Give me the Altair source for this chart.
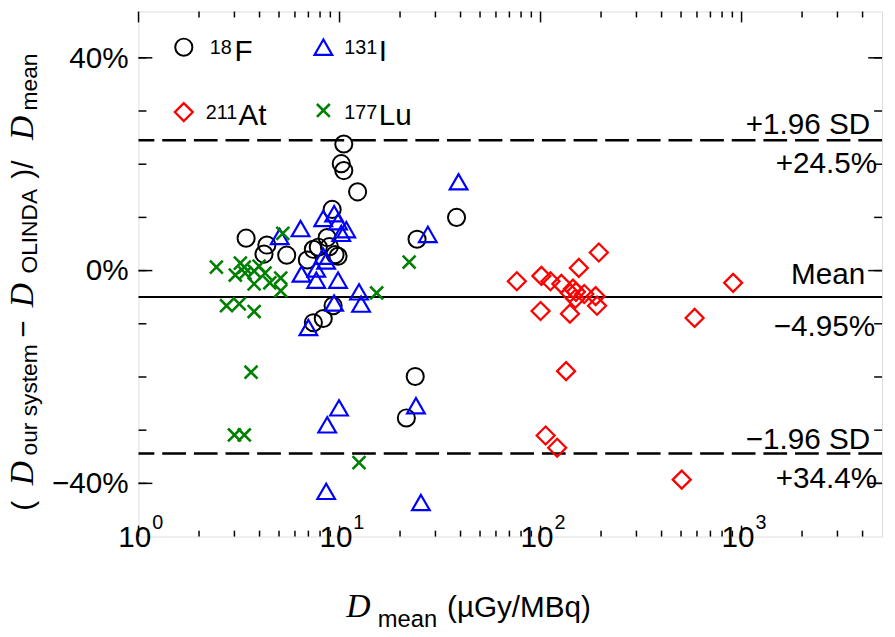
import altair as alt
import pandas as pd

# ---- data ----
F18_D = [3.43, 4.35, 4.21, 5.46, 6.92, 7.41, 7.84, 8.68, 9.19, 10.5, 10.2, 10.5, 12.3, 9.83,
         38.2, 24.3, 9.29, 8.30, 7.41, 23.8, 21.5, 8.9, 9.5]
F18_R = [6.1, 4.8, 3.1, 2.9, 2.0, 4.0, 4.4, 6.2, 11.5, 23.8, 20.1, 18.8, 14.8, 2.7,
         10.0, 5.9, -6.6, -9.0, -9.8, -19.9, -27.7, 4.5, 3.0]

I131_D = [5.04, 6.40, 8.30, 9.40, 9.83, 10.8, 10.2, 8.30, 8.58, 7.66, 6.47, 7.66, 9.83, 12.5,
          9.40, 12.8, 7.00, 39.1, 27.5, 9.94, 8.68, 24.0, 8.58, 25.4]
I131_R = [6.4, 7.9, 9.8, 10.7, 9.2, 7.7, 7.0, 2.7, 1.8, 0.3, -0.65, -1.8, -1.8, -4.0,
          -6.1, -6.3, -10.7, 16.7, 6.8, -25.8, -29.0, -25.4, -41.5, -43.6]

LU177_D = [2.44, 3.21, 3.36, 3.03, 3.39, 3.76, 3.98, 3.76, 4.26, 4.50, 5.10, 5.10, 5.22, 2.74,
           3.17, 3.76, 22.2, 15.3, 3.63, 3.00, 3.36, 12.5]
LU177_R = [0.65, 1.4, 0.65, -0.84, -0.47, -0.09, 0.84, -2.5, -0.47, -2.3, -1.4, -3.8, 7.0, -6.6,
           -6.25, -7.7, 1.6, -4.2, -19.1, -30.9, -30.9, -36.1]

AT211_D = [76.2, 101, 112, 127, 155, 195, 145, 150, 149, 165, 188, 191, 100, 140, 584, 908,
           134, 106, 121, 504, 140]
AT211_R = [-2.0, -1.0, -2.0, -2.5, 0.5, 3.4, -3.4, -4.0, -5.3, -4.4, -4.8, -6.6, -7.6, -8.1,
           -8.9, -2.3, -18.9, -31.0, -33.3, -39.3, -4.2]

MEAN = -4.95
UPPER = 24.5
LOWER = -34.4

Y_LABELS = [-40, 0, 40]
Y_TEXT = ["\u221240%", "0%", "40%"]
Y_MINOR = [-40, -30, -20, -10, 0, 10, 20, 30, 40]
X_MAJOR = [1, 10, 100, 1000]
X_EXP = ["0", "1", "2", "3"]
X_MINOR = [2, 3, 4, 5, 6, 7, 8, 9, 20, 30, 40, 50, 60, 70, 80, 90,
           200, 300, 400, 500, 600, 700, 800, 900, 2000, 3000, 4000]

# legend entries (placed in data space)
LEG_D = [1.68, 8.31, 1.68, 8.31]
LEG_R = [42.0, 42.0, 29.8, 30.1]

W, H = 752, 531
SANS = "Liberation Sans"
SERIF = "Liberation Serif"
XS = alt.Scale(type="log", domain=[1, 5000])
YS = alt.Scale(domain=[-50, 48.7])

BLACK, BLUE, RED, GREEN = "#000000", "#0000FF", "#FF0000", "#008000"
XSHAPE = "M-1,-1L1,1M-1,1L1,-1"


def df(d, r):
    return pd.DataFrame({"d": d, "r": r})


def pts(data, shape, color, size, sw):
    return alt.Chart(data).mark_point(shape=shape, filled=False, color=color, size=size,
                                      strokeWidth=sw, opacity=1).encode(
        x=alt.X("d:Q", scale=XS, axis=None),
        y=alt.Y("r:Q", scale=YS, axis=None))


one = pd.DataFrame({"a": [0]})


def txt(t, x, y, size, font=SANS, italic=False, angle=0, align="left"):
    kw = dict(text=t, font=font, fontSize=size, align=align, baseline="alphabetic",
              color="black")
    if italic:
        kw["fontStyle"] = "italic"
    if angle:
        kw["angle"] = angle
    return alt.Chart(one).mark_text(**kw).encode(x=alt.value(x), y=alt.value(y))


layers = []

# reference lines
lines = pd.DataFrame({"r": [UPPER, LOWER]})
layers.append(alt.Chart(lines).mark_rule(color="black", strokeWidth=2.5, strokeDash=[24, 8]).encode(
    y=alt.Y("r:Q", scale=YS, axis=None)))
layers.append(alt.Chart(pd.DataFrame({"r": [MEAN]})).mark_rule(color="black", strokeWidth=2).encode(
    y=alt.Y("r:Q", scale=YS, axis=None)))


# ticks (inward)
def xticks(vals, length):
    d = pd.DataFrame({"d": vals})
    bot = alt.Chart(d).mark_rule(color="black", strokeWidth=1.5).encode(
        x=alt.X("d:Q", scale=XS, axis=None), y=alt.value(H), y2=alt.value(H - length))
    top = alt.Chart(d).mark_rule(color="black", strokeWidth=1.5).encode(
        x=alt.X("d:Q", scale=XS, axis=None), y=alt.value(0), y2=alt.value(length))
    return [bot, top]


def yticks(vals, length):
    d = pd.DataFrame({"r": vals})
    lft = alt.Chart(d).mark_rule(color="black", strokeWidth=1.5).encode(
        y=alt.Y("r:Q", scale=YS, axis=None), x=alt.value(0), x2=alt.value(length))
    rgt = alt.Chart(d).mark_rule(color="black", strokeWidth=1.5).encode(
        y=alt.Y("r:Q", scale=YS, axis=None), x=alt.value(W), x2=alt.value(W - length))
    return [lft, rgt]


layers += xticks(X_MAJOR, 11) + xticks(X_MINOR, 6)
layers += yticks(Y_LABELS, 14) + yticks(Y_MINOR, 8)

# y tick labels
yl = pd.DataFrame({"r": Y_LABELS, "t": Y_TEXT})
layers.append(alt.Chart(yl).mark_text(font=SANS, fontSize=30, align="right", baseline="middle",
                                      dy=1, color="black").encode(
    y=alt.Y("r:Q", scale=YS, axis=None), x=alt.value(-10), text="t:N"))

# data points
layers.append(pts(df(F18_D, F18_R), "circle", BLACK, 300, 2))
layers.append(pts(df(I131_D, I131_R), "triangle-up", BLUE, 320, 2.2))
layers.append(pts(df(AT211_D, AT211_R), "diamond", RED, 330, 2.3))
layers.append(pts(df(LU177_D, LU177_R), XSHAPE, GREEN, 170, 2.6))

# legend markers
layers.append(pts(df(LEG_D[:1], LEG_R[:1]), "circle", BLACK, 300, 2))
layers.append(pts(df(LEG_D[1:2], LEG_R[1:2]), "triangle-up", BLUE, 320, 2.2))
layers.append(pts(df(LEG_D[2:3], LEG_R[2:3]), "diamond", RED, 330, 2.3))
layers.append(pts(df(LEG_D[3:4], LEG_R[3:4]), XSHAPE, GREEN, 170, 2.6))

# legend text
layers += [
    txt("18", 72, 43, 20), txt("F", 97, 50, 30),
    txt("131", 208, 43, 20), txt("I", 243, 50, 30),
    txt("211", 68, 109, 20), txt("At", 101, 115, 30),
    txt("177", 208, 109, 20), txt("Lu", 243, 115, 30),
]

# x tick labels 10^n
xl = pd.DataFrame({"d": X_MAJOR, "e": X_EXP})
layers.append(alt.Chart(xl).mark_text(text="10", font=SANS, fontSize=30, align="right",
                                      baseline="alphabetic", dx=13, color="black").encode(
    x=alt.X("d:Q", scale=XS, axis=None), y=alt.value(542)))
layers.append(alt.Chart(xl).mark_text(font=SANS, fontSize=20, align="left",
                                      baseline="alphabetic", dx=14, color="black").encode(
    x=alt.X("d:Q", scale=XS, axis=None), y=alt.value(523), text="e:N"))


# right-side annotations
def ann(t, val, x, dy):
    return alt.Chart(pd.DataFrame({"r": [val]})).mark_text(
        text=t, font=SANS, fontSize=30, align="right", baseline="alphabetic", dy=dy,
        color="black").encode(y=alt.Y("r:Q", scale=YS, axis=None), x=alt.value(x))


layers += [
    ann("+1.96 SD", UPPER, 740, -6),
    ann("+24.5%", UPPER, 747, 33),
    ann("Mean", MEAN, 735, -13),
    ann("\u22124.95%", MEAN, 745, 40),
    ann("\u22121.96 SD", LOWER, 740, -5),
    ann("+34.4%", LOWER, 747, 35),
]

# x axis title
layers += [
    txt("D", 210, 612, 34, font=SERIF, italic=True),
    txt("mean", 242, 622, 24),
    txt("(\u00b5Gy/MBq)", 312, 612, 30),
]

# y axis title (rotated)
YB = -107
YSB = -103
layers += [
    txt("(", YB, 505, 30, angle=270),
    txt("D", YB, 479, 34, font=SERIF, italic=True, angle=270),
    txt("our system", YSB, 449, 23, angle=270),
    txt("\u2212", YB, 330, 30, angle=270),
    txt("D", YB, 299, 34, font=SERIF, italic=True, angle=270),
    txt("OLINDA", YSB, 265, 23, angle=270),
    txt(")/", YB, 169, 30, angle=270),
    txt("D", YB, 130, 34, font=SERIF, italic=True, angle=270),
    txt("mean", YSB, 100, 23, angle=270),
]

chart = alt.layer(*layers).properties(
    width=W, height=H,
    autosize=alt.AutoSizeParams(type="none"),
    padding={"left": 132, "top": 0, "right": 5, "bottom": 98},
).configure_view(stroke="black", strokeWidth=3).configure(background="white")

chart.save("out.html", embed_options={"renderer": "svg", "actions": False})
